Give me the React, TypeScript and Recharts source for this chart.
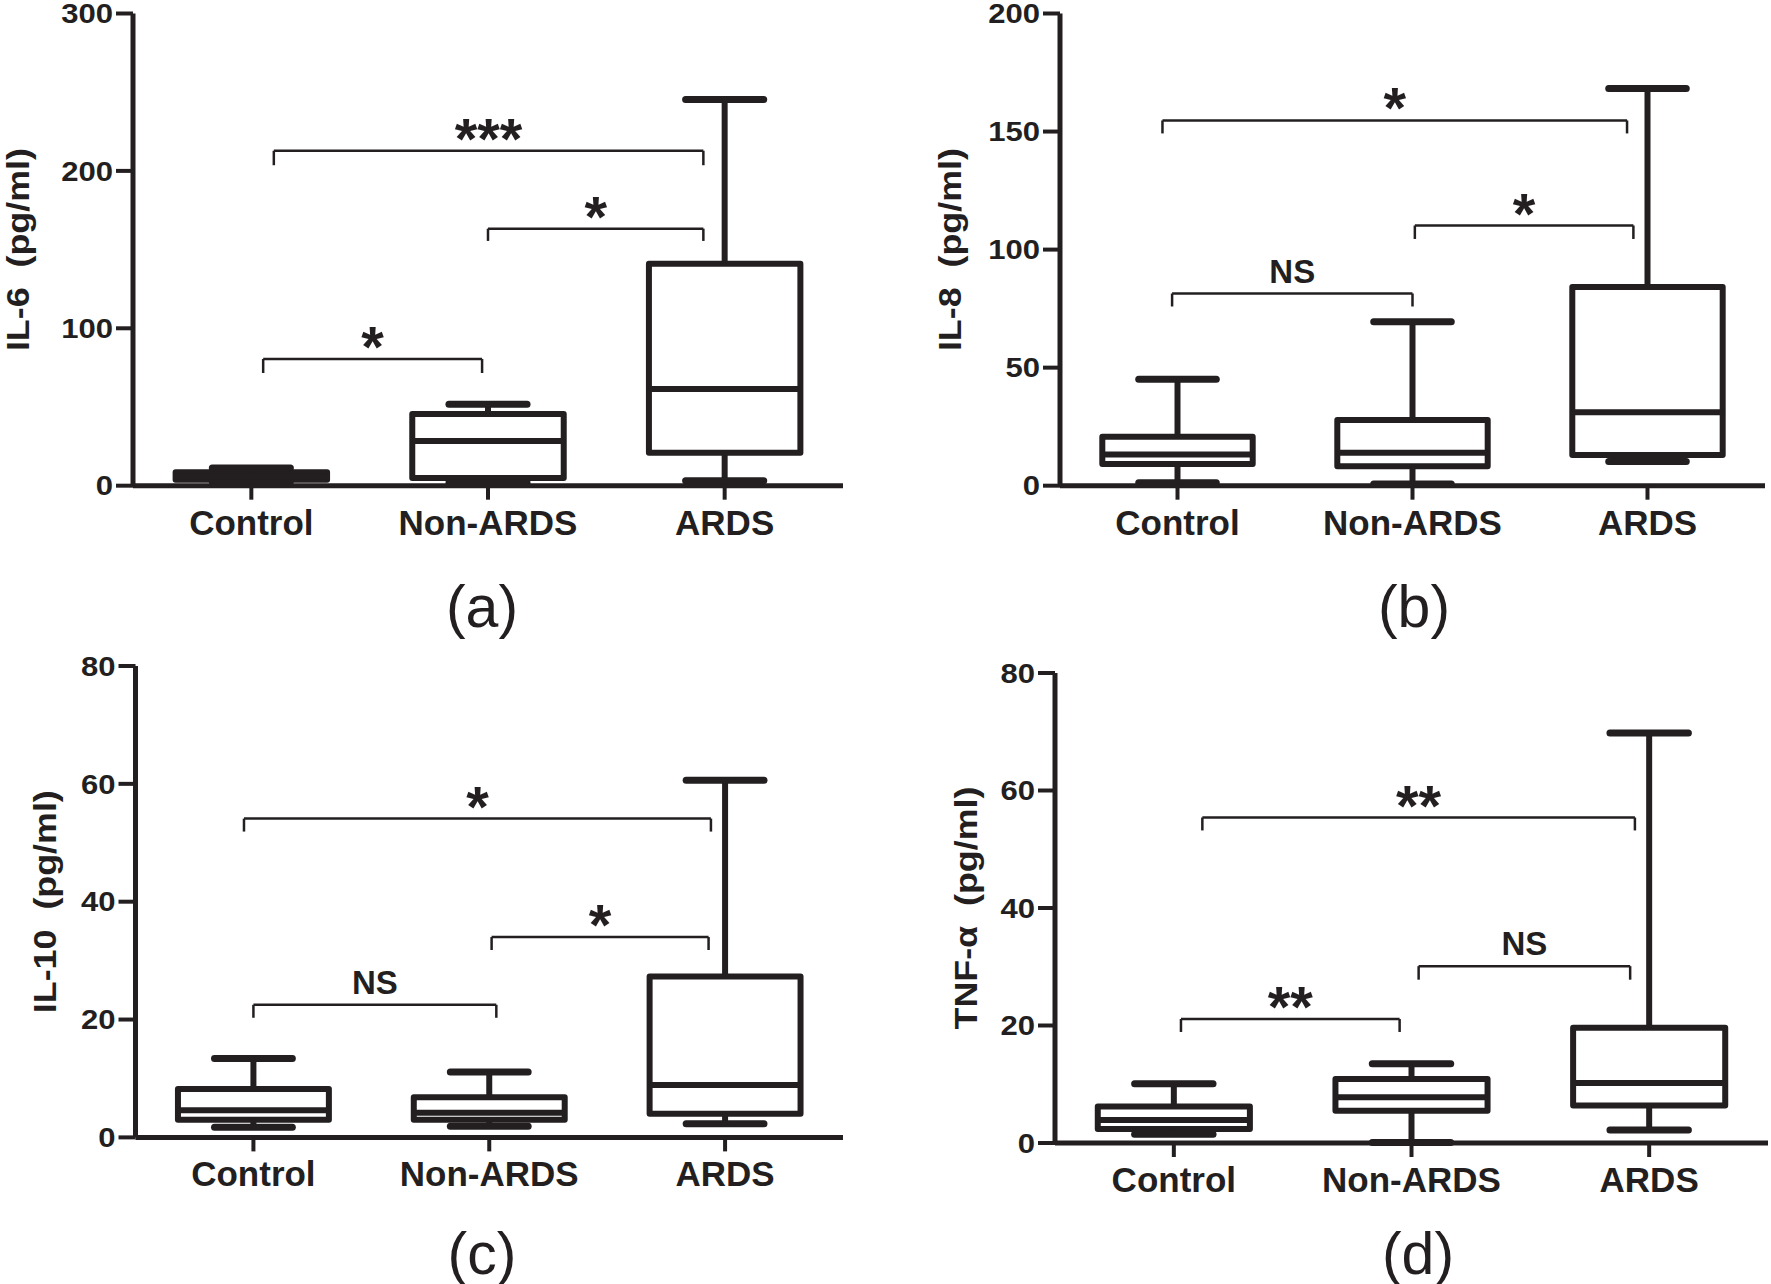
import React from 'react';
import { ComposedChart, XAxis, YAxis, ReferenceArea, ReferenceLine, Scatter } from 'recharts';

const groups = ['Control', 'Non-ARDS', 'ARDS'];

// IL-6 (pg/ml)
const il6Min = [2.5, 1.8, 3.1];
const il6Q1 = [3.8, 4.9, 21];
const il6Median = [6, 28.4, 61.5];
const il6Q3 = [8.5, 45.6, 141];
const il6Max = [11.3, 51.8, 245.3];
const il6Ticks = [0, 100, 200, 300];

// IL-8 (pg/ml)
const il8Min = [1.2, 0.7, 10.2];
const il8Q1 = [9.2, 8.2, 13];
const il8Median = [13.2, 13.9, 31.1];
const il8Q3 = [20.7, 27.8, 84.2];
const il8Max = [45.1, 69.4, 168.2];
const il8Ticks = [0, 50, 100, 150, 200];

// IL-10 (pg/ml)
const il10Min = [1.7, 1.9, 2.3];
const il10Q1 = [3, 3, 4];
const il10Median = [4.6, 4.2, 8.9];
const il10Q3 = [8.2, 6.8, 27.3];
const il10Max = [13.4, 11.1, 60.6];
const il10Ticks = [0, 20, 40, 60, 80];

// TNF-α (pg/ml)
const tnfMin = [1.5, 0.1, 2.2];
const tnfQ1 = [2.4, 5.5, 6.4];
const tnfMedian = [3.9, 7.8, 10.2];
const tnfQ3 = [6.2, 10.9, 19.6];
const tnfMax = [10.1, 13.5, 69.8];
const tnfTicks = [0, 20, 40, 60, 80];

// significance brackets: from / to group, bar level, end of the drop, label
const il6Brackets = [
  { from: 1.095, to: 2.91, y: 212.8, low: 203.6, text: '***' },
  { from: 2.0, to: 2.91, y: 163.3, low: 155.5, text: '*' },
  { from: 1.05, to: 1.975, y: 80.5, low: 71.6, text: '*' },
];
const il8Brackets = [
  { from: 0.936, to: 2.913, y: 154.7, low: 149.2, text: '*' },
  { from: 2.01, to: 2.94, y: 110.2, low: 104.5, text: '*' },
  { from: 0.977, to: 2.0, y: 81.4, low: 75.9, text: 'NS' },
];
const il10Brackets = [
  { from: 0.96, to: 2.94, y: 54.1, low: 51.9, text: '*' },
  { from: 2.01, to: 2.93, y: 34.0, low: 31.8, text: '*' },
  { from: 1.0, to: 2.03, y: 22.5, low: 20.3, text: 'NS' },
];
const tnfBrackets = [
  { from: 1.12, to: 2.94, y: 55.4, low: 53.2, text: '**' },
  { from: 2.03, to: 2.92, y: 30.1, low: 27.8, text: 'NS' },
  { from: 1.03, to: 1.95, y: 21.1, low: 18.9, text: '**' },
];

const INK = '#231f20';
const FONT = "'Liberation Sans', Arial, Helvetica, sans-serif";
const BOX_HALF = 0.32;
const CAP_HALF = 0.165;

// y axis title, slightly stretched along its length like the original
const AxisTitle = (props: any) => {
  const { viewBox, text, offsetX } = props;
  const x = viewBox.x + offsetX;
  const y = viewBox.y + viewBox.height / 2;
  return (
    <g transform={`translate(${x}, ${y}) rotate(-90) scale(1.12, 1)`}>
      <text
        x={0}
        y={0}
        textAnchor="middle"
        fill={INK}
        fontSize={32}
        fontWeight="bold"
        fontFamily={FONT}
        style={{ whiteSpace: 'pre' }}
      >
        {text}
      </text>
    </g>
  );
};

const YTick = (props: any) => {
  const { x, y, payload } = props;
  return (
    <g transform={`translate(${x}, ${y}) scale(1.15, 1)`}>
      <text x={0} y={0} dy="0.36em" textAnchor="end" fill={INK} fontSize={27} fontWeight="bold" fontFamily={FONT}>
        {payload.value}
      </text>
    </g>
  );
};

const BracketLabel = (props: any) => {
  const { viewBox, text } = props;
  const x = viewBox.x + viewBox.width / 2;
  const stars = text !== 'NS';
  return (
    <text
      x={x}
      y={stars ? viewBox.y + 8 : viewBox.y - 11}
      textAnchor="middle"
      fill={INK}
      fontSize={stars ? 58 : 33}
      fontWeight="bold"
      fontFamily={FONT}
    >
      {text}
    </text>
  );
};

interface PanelProps {
  title: string;
  caption: string;
  min: number[];
  q1: number[];
  median: number[];
  q3: number[];
  max: number[];
  ticks: number[];
  brackets: { from: number; to: number; y: number; low: number; text: string }[];
  left: number;
  top: number;
  axisX: number;
  axisEnd: number;
  plotTop: number;
  plotBottom: number;
  titleX: number;
  captionX: number;
  captionY: number;
}

const BoxPanel: React.FC<PanelProps> = (p) => {
  const width = p.axisEnd - p.left + 10;
  const height = p.plotBottom - p.top + 70;
  const spacing = (p.axisEnd - p.axisX) / 3;
  const medianHalf = BOX_HALF * spacing;
  const medians = groups.map((g, i) => ({ x: i + 1, y: p.median[i], name: g }));

  return (
    <>
      <div style={{ position: 'absolute', left: p.left, top: p.top }}>
        <ComposedChart
          width={width}
          height={height}
          margin={{ top: p.plotTop - p.top, right: 10, bottom: 10, left: 0 }}
        >
          <XAxis
            type="number"
            dataKey="x"
            domain={[0.5, 3.5]}
            ticks={[1, 2, 3]}
            allowDataOverflow
            tickFormatter={(v: number) => groups[v - 1]}
            height={60}
            axisLine={{ stroke: INK, strokeWidth: 5 }}
            tickLine={{ stroke: INK, strokeWidth: 4 }}
            tickSize={14}
            tickMargin={10}
            tick={{ fill: INK, fontSize: 35, fontWeight: 'bold', fontFamily: FONT }}
          />
          <YAxis
            type="number"
            dataKey="y"
            domain={[p.ticks[0], p.ticks[p.ticks.length - 1]]}
            ticks={p.ticks}
            allowDataOverflow
            width={p.axisX - p.left}
            axisLine={{ stroke: INK, strokeWidth: 5 }}
            tickLine={{ stroke: INK, strokeWidth: 4 }}
            tickSize={17}
            tickMargin={3}
            tick={<YTick />}
            label={<AxisTitle text={p.title} offsetX={p.titleX - p.left} />}
          />

          {groups.map((g, i) => (
            <ReferenceLine
              key={`wl-${g}`}
              segment={[{ x: i + 1, y: p.min[i] }, { x: i + 1, y: p.q1[i] }]}
              stroke={INK}
              strokeWidth={6}
            />
          ))}
          {groups.map((g, i) => (
            <ReferenceLine
              key={`wh-${g}`}
              segment={[{ x: i + 1, y: p.q3[i] }, { x: i + 1, y: p.max[i] }]}
              stroke={INK}
              strokeWidth={6}
            />
          ))}
          {groups.map((g, i) => (
            <ReferenceLine
              key={`cl-${g}`}
              segment={[{ x: i + 1 - CAP_HALF, y: p.min[i] }, { x: i + 1 + CAP_HALF, y: p.min[i] }]}
              stroke={INK}
              strokeWidth={7}
              strokeLinecap="round"
            />
          ))}
          {groups.map((g, i) => (
            <ReferenceLine
              key={`ch-${g}`}
              segment={[{ x: i + 1 - CAP_HALF, y: p.max[i] }, { x: i + 1 + CAP_HALF, y: p.max[i] }]}
              stroke={INK}
              strokeWidth={7}
              strokeLinecap="round"
            />
          ))}
          {groups.map((g, i) => (
            <ReferenceArea
              key={`box-${g}`}
              x1={i + 1 - BOX_HALF}
              x2={i + 1 + BOX_HALF}
              y1={p.q1[i]}
              y2={p.q3[i]}
              fill="none"
              fillOpacity={0}
              stroke={INK}
              strokeWidth={6}
              strokeLinejoin="round"
            />
          ))}

          {p.brackets.map((b, i) => (
            <ReferenceLine
              key={`bl-${i}`}
              segment={[{ x: b.from, y: b.low }, { x: b.from, y: b.y }]}
              stroke={INK}
              strokeWidth={2.5}
            />
          ))}
          {p.brackets.map((b, i) => (
            <ReferenceLine
              key={`br-${i}`}
              segment={[{ x: b.to, y: b.low }, { x: b.to, y: b.y }]}
              stroke={INK}
              strokeWidth={2.5}
            />
          ))}
          {p.brackets.map((b, i) => (
            <ReferenceLine
              key={`bh-${i}`}
              segment={[{ x: b.from, y: b.y }, { x: b.to, y: b.y }]}
              stroke={INK}
              strokeWidth={2.5}
              label={<BracketLabel text={b.text} />}
            />
          ))}

          <Scatter
            data={medians}
            dataKey="y"
            isAnimationActive={false}
            shape={(s: any) => (
              <line
                x1={s.cx - medianHalf}
                x2={s.cx + medianHalf}
                y1={s.cy}
                y2={s.cy}
                stroke={INK}
                strokeWidth={6}
              />
            )}
          />
        </ComposedChart>
      </div>
      <div
        style={{
          position: 'absolute',
          left: p.captionX,
          top: p.captionY,
          transform: 'translate(-50%, -50%)',
          fontFamily: FONT,
          fontSize: 59,
          color: INK,
          lineHeight: 1,
        }}
      >
        {p.caption}
      </div>
    </>
  );
};

const App: React.FC = () => {
  return (
    <div
      style={{
        position: 'absolute',
        left: 0,
        top: 0,
        width: 1771,
        height: 1284,
        background: '#fff',
        overflow: 'hidden',
      }}
    >
      <BoxPanel
        title="IL-6  (pg/ml)"
        caption="(a)"
        min={il6Min}
        q1={il6Q1}
        median={il6Median}
        q3={il6Q3}
        max={il6Max}
        ticks={il6Ticks}
        brackets={il6Brackets}
        left={0}
        top={0}
        axisX={133}
        axisEnd={843}
        plotTop={13.5}
        plotBottom={485.7}
        titleX={29}
        captionX={482}
        captionY={607}
      />
      <BoxPanel
        title="IL-8  (pg/ml)"
        caption="(b)"
        min={il8Min}
        q1={il8Q1}
        median={il8Median}
        q3={il8Q3}
        max={il8Max}
        ticks={il8Ticks}
        brackets={il8Brackets}
        left={885}
        top={0}
        axisX={1060}
        axisEnd={1765}
        plotTop={13.5}
        plotBottom={485.7}
        titleX={961}
        captionX={1414}
        captionY={607}
      />
      <BoxPanel
        title="IL-10  (pg/ml)"
        caption="(c)"
        min={il10Min}
        q1={il10Q1}
        median={il10Median}
        q3={il10Q3}
        max={il10Max}
        ticks={il10Ticks}
        brackets={il10Brackets}
        left={0}
        top={642}
        axisX={135.5}
        axisEnd={843}
        plotTop={666}
        plotBottom={1137.4}
        titleX={56}
        captionX={482}
        captionY={1254}
      />
      <BoxPanel
        title="TNF-α  (pg/ml)"
        caption="(d)"
        min={tnfMin}
        q1={tnfQ1}
        median={tnfMedian}
        q3={tnfQ3}
        max={tnfMax}
        ticks={tnfTicks}
        brackets={tnfBrackets}
        left={885}
        top={642}
        axisX={1055}
        axisEnd={1768}
        plotTop={673}
        plotBottom={1143}
        titleX={977}
        captionX={1418}
        captionY={1254}
      />
    </div>
  );
};

export default App;
